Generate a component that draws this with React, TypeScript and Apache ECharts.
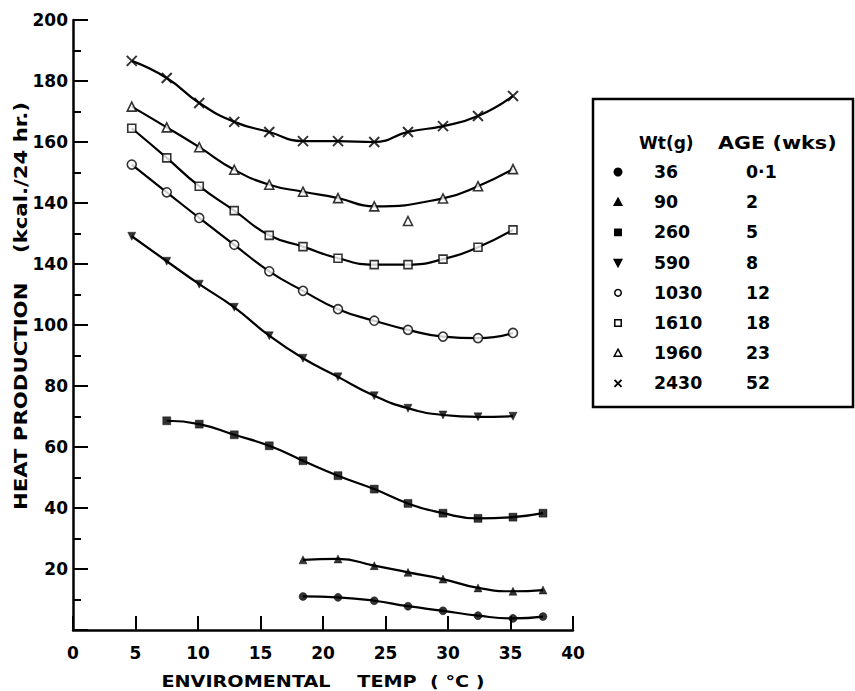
import React, { useEffect, useRef } from "react";
import * as echarts from "echarts";

// Environmental temperature (°C) at which measurements were taken
const temps = [4.7, 7.5, 10.1, 12.9, 15.7, 18.4, 21.2, 24.1, 26.8, 29.6, 32.4, 35.2, 37.6];

// Heat production (kcal / 24 hr) per body weight group
const hp36 = [null, null, null, null, null, 11.0, 10.7, 9.6, 7.8, 6.3, 4.7, 3.8, 4.4];
const hp90 = [null, null, null, null, null, 23.0, 23.3, 21.1, 18.9, 16.7, 13.8, 12.7, 13.1];
const hp260 = [null, 68.6, 67.5, 64.0, 60.4, 55.5, 50.6, 46.2, 41.5, 38.3, 36.6, 37.0, 38.3];
const hp590 = [129.1, 120.9, 113.4, 105.8, 96.5, 89.1, 83.0, 76.8, 72.7, 70.5, 69.9, 70.1, null];
const hp1030 = [152.6, 143.5, 135.1, 126.3, 117.6, 111.2, 105.2, 101.4, 98.4, 96.2, 95.7, 97.4, null];
const hp1610 = [164.5, 154.8, 145.5, 137.5, 129.4, 125.7, 121.9, 119.8, 119.8, 121.6, 125.5, 131.2, null];
const hp1960 = [171.6, 164.8, 158.3, 150.9, 146.0, 143.7, 141.6, 138.9, 134.1, 141.5, 145.5, 151.1, null];
const hp2430 = [186.6, 181.0, 172.8, 166.6, 163.3, 160.3, 160.3, 160.0, 163.3, 165.2, 168.5, 175.1, null];

// points that lie off the fitted curve (index into temps)
const outliers1960 = [8];

// legend table
const weights = ["36", "90", "260", "590", "1030", "1610", "1960", "2430"];
const ages = ["0·1", "2", "5", "8", "12", "18", "23", "52"];

// y-axis tick labels as printed (values 20..200)
const yTickValues = [20, 40, 60, 80, 100, 120, 140, 160, 180, 200];
const yTickLabels = ["20", "40", "60", "80", "100", "140", "140", "160", "180", "200"];

const FONT = '"DejaVu Sans", "Liberation Sans", sans-serif';
const CROSS = "path://M0 0L10 10M10 0L0 10";

type Def = {
  name: string;
  values: (number | null)[];
  symbol: string;
  size: number;
  open?: boolean;
  rotate?: number;
  cross?: boolean;
  skip?: number[];
};

const defs: Def[] = [
  { name: "36", values: hp36, symbol: "circle", size: 8 },
  { name: "90", values: hp90, symbol: "triangle", size: 8 },
  { name: "260", values: hp260, symbol: "rect", size: 8 },
  { name: "590", values: hp590, symbol: "triangle", size: 8, rotate: 180 },
  { name: "1030", values: hp1030, symbol: "circle", size: 9, open: true },
  { name: "1610", values: hp1610, symbol: "rect", size: 8, open: true },
  { name: "1960", values: hp1960, symbol: "triangle", size: 9, open: true, skip: outliers1960 },
  { name: "2430", values: hp2430, symbol: CROSS, size: 10, cross: true },
];

function legendSymbol(d: Def, cx: number, cy: number): any[] {
  const fill = d.open ? "#fff" : "#000";
  const style = { fill, stroke: "#000", lineWidth: 1.5 };
  if (d.cross) {
    return [
      { type: "line", shape: { x1: cx - 3.5, y1: cy - 3.5, x2: cx + 3.5, y2: cy + 3.5 }, style: { stroke: "#000", lineWidth: 2 } },
      { type: "line", shape: { x1: cx + 3.5, y1: cy - 3.5, x2: cx - 3.5, y2: cy + 3.5 }, style: { stroke: "#000", lineWidth: 2 } },
    ];
  }
  if (d.symbol === "circle") {
    return [{ type: "circle", shape: { cx, cy, r: d.open ? 3.3 : 3.8 }, style }];
  }
  if (d.symbol === "rect") {
    return [{ type: "rect", shape: { x: cx - 3.2, y: cy - 3.2, width: 6.4, height: 6.4 }, style }];
  }
  const down = d.rotate === 180;
  const pts = down
    ? [[cx - 3.8, cy - 3], [cx + 3.8, cy - 3], [cx, cy + 4]]
    : [[cx, cy - 4], [cx + 3.8, cy + 3], [cx - 3.8, cy + 3]];
  return [{ type: "polygon", shape: { points: pts }, style }];
}

export default function App() {
  const ref = useRef<HTMLDivElement>(null);

  useEffect(() => {
    document.body.style.margin = "0";
    const chart = echarts.init(ref.current!, null, { renderer: "svg" });

    const series: any[] = [];
    defs.forEach((d) => {
      const lineData = temps
        .map((t, i) => (d.values[i] == null || (d.skip && d.skip.includes(i)) ? null : [t, d.values[i]]))
        .filter((p) => p !== null);
      const pointData = temps
        .map((t, i) => (d.values[i] == null ? null : [t, d.values[i]]))
        .filter((p) => p !== null);
      series.push({
        type: "line",
        name: d.name,
        data: lineData,
        smooth: 0.5,
        showSymbol: false,
        lineStyle: { color: "#000", width: 2.2 },
        z: 2,
        silent: true,
      });
      series.push({
        type: "scatter",
        name: d.name + " pts",
        data: pointData,
        symbol: d.symbol,
        symbolSize: d.size,
        symbolRotate: d.rotate || 0,
        itemStyle: d.cross
          ? { color: "#000", borderColor: "#000", borderWidth: 2 }
          : d.open
          ? { color: "#fff", borderColor: "#000", borderWidth: 1.6 }
          : { color: "#000", borderColor: "#000", borderWidth: 0.5 },
        z: 3,
        silent: true,
      });
    });

    const graphic: any[] = [];
    // axis titles
    graphic.push({
      type: "text",
      x: 323,
      y: 682,
      scaleX: 1.2,
      style: {
        text: "ENVIROMENTAL    TEMP  ( °C )",
        fontFamily: FONT,
        fontWeight: "bold",
        fontSize: 16,
        fill: "#000",
        align: "center",
        verticalAlign: "middle",
        textAlign: "center",
        textVerticalAlign: "middle",
      },
    });
    graphic.push({
      type: "text",
      x: 21,
      y: 306,
      rotation: Math.PI / 2,
      scaleX: 1.18,
      style: {
        text: "HEAT PRODUCTION    (kcal./24 hr.)",
        fontFamily: FONT,
        fontWeight: "bold",
        fontSize: 18,
        fill: "#000",
        align: "center",
        verticalAlign: "middle",
        textAlign: "center",
        textVerticalAlign: "middle",
      },
    });
    // legend box
    graphic.push({
      type: "rect",
      shape: { x: 593, y: 99, width: 260, height: 308 },
      style: { fill: "none", stroke: "#000", lineWidth: 2.5 },
    });
    const txt = (text: string, x: number, y: number, sx = 1) => ({
      type: "text",
      x,
      y,
      scaleX: sx,
      style: {
        text,
        fontFamily: FONT,
        fontWeight: "bold",
        fontSize: 17,
        fill: "#000",
        align: "left",
        verticalAlign: "middle",
        textAlign: "left",
        textVerticalAlign: "middle",
      },
    });
    graphic.push(txt("Wt(g)", 639, 143));
    graphic.push(txt("AGE (wks)", 718, 143, 1.22));
    weights.forEach((w, i) => {
      const y = 172 + i * 30.2;
      graphic.push(...legendSymbol(defs[i], 618, y));
      graphic.push(txt(w, 654, y, 1.02));
      graphic.push(txt(ages[i], 746, y, 1.02));
    });

    const option: any = {
      animation: false,
      backgroundColor: "#fff",
      grid: { left: 73, right: 282, top: 20, bottom: 61, containLabel: false },
      xAxis: {
        type: "value",
        min: 0,
        max: 40,
        interval: 5,
        axisLine: { show: true, lineStyle: { color: "#000", width: 2.5 } },
        axisTick: { show: true, inside: true, length: 14, lineStyle: { color: "#000", width: 2 } },
        axisLabel: {
          margin: 14,
          color: "#000",
          fontFamily: FONT,
          fontWeight: "bold",
          fontSize: 17,
          showMinLabel: true,
          showMaxLabel: true,
        },
        splitLine: { show: false },
      },
      yAxis: {
        type: "value",
        min: 0,
        max: 200,
        interval: 20,
        axisLine: { show: true, lineStyle: { color: "#000", width: 2.5 } },
        axisTick: { show: true, inside: true, length: 15, lineStyle: { color: "#000", width: 2 } },
        minorTick: { show: true, splitNumber: 2, length: 8, lineStyle: { color: "#000", width: 2 } },
        axisLabel: {
          margin: 5,
          color: "#000",
          fontFamily: FONT,
          fontWeight: "bold",
          fontSize: 17,
          formatter: (v: number) => {
            const idx = yTickValues.indexOf(Math.round(v));
            return idx >= 0 ? yTickLabels[idx] : "";
          },
        },
        splitLine: { show: false },
      },
      series,
      graphic,
    };

    chart.setOption(option);
    return () => chart.dispose();
  }, []);

  return (
    <div
      ref={ref}
      style={{ position: "absolute", left: 0, top: 0, width: 855, height: 691, background: "#fff" }}
    />
  );
}
